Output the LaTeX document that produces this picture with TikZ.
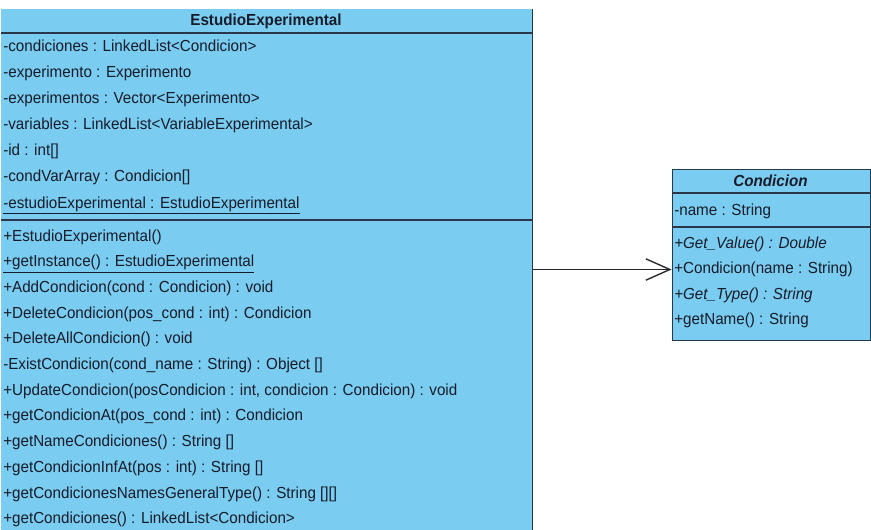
\documentclass[tikz,border=0pt]{standalone}
\usepackage{fontspec}
\setmainfont[FakeStretch=0.95]{Liberation Sans}
\usetikzlibrary{arrows.meta}
\definecolor{classfill}{RGB}{122,204,240}
\definecolor{classline}{RGB}{40,56,74}
\definecolor{classtext}{RGB}{22,28,42}

\begin{document}
\begin{tikzpicture}[x=0.75pt,y=-0.75pt,
  member/.style={anchor=west, inner sep=0pt, text height=1.5ex, text depth=0.35ex,
    font=\fontsize{12}{14}\selectfont, text=classtext},
  classname/.style={member, anchor=center, font=\fontsize{12}{14}\selectfont\bfseries},
  classbox/.style={fill=classfill, inner sep=0pt, anchor=north west},
  rule/.style={draw=classline, line width=1.1pt},
  assoc/.style={draw=black!85, line width=1pt,
    -{Straight Barb[length=18pt,width=16pt,line width=1pt]}}]
\useasboundingbox (0,0) rectangle (871,530);

% class EstudioExperimental (runs past the lower edge)
\node[classbox, minimum width=398.25pt, minimum height=390.75pt] (ee) at (1,9) {};
\draw[rule] (ee.north east) -- (ee.south east);
\draw[rule] (1,33) -- (532,33);
\draw[rule] (1,220) -- (532,220);
\node[classname] (eet) at (266,21) {EstudioExperimental};

\node[member] (ea1) at (3,47)  {-condiciones : LinkedList<Condicion>};
\node[member] (ea2) at (3,73)  {-experimento : Experimento};
\node[member] (ea3) at (3,99)  {-experimentos : Vector<Experimento>};
\node[member] (ea4) at (3,125) {-variables : LinkedList<VariableExperimental>};
\node[member] (ea5) at (3,151) {-id : int[]};
\node[member] (ea6) at (3,177) {-condVarArray : Condicion[]};
\node[member] (ea7) at (3,204) {\underline{-estudioExperimental : EstudioExperimental}};

\node[member] (em1)  at (3,237)   {+EstudioExperimental()};
\node[member] (em2)  at (3,262.7) {\underline{+getInstance() : EstudioExperimental}};
\node[member] (em3)  at (3,288.4) {+AddCondicion(cond : Condicion) : void};
\node[member] (em4)  at (3,314.1) {+DeleteCondicion(pos\_cond : int) : Condicion};
\node[member] (em5)  at (3,339.8) {+DeleteAllCondicion() : void};
\node[member] (em6)  at (3,365.5) {-ExistCondicion(cond\_name : String) : Object []};
\node[member] (em7)  at (3,391.2) {+UpdateCondicion(posCondicion : int, condicion : Condicion) : void};
\node[member] (em8)  at (3,416.9) {+getCondicionAt(pos\_cond : int) : Condicion};
\node[member] (em9)  at (3,442.6) {+getNameCondiciones() : String []};
\node[member] (em10) at (3,468.3) {+getCondicionInfAt(pos : int) : String []};
\node[member] (em11) at (3,494)   {+getCondicionesNamesGeneralType() : String [][]};
\node[member] (em12) at (3,519.7) {+getCondiciones() : LinkedList<Condicion>};

% class Condicion
\node[classbox, draw=classline, line width=1.1pt,
      minimum width=148.5pt, minimum height=128.25pt] (cd) at (671.5,169) {};
\draw[rule] (671.5,193) -- (869.5,193);
\draw[rule] (671.5,227) -- (869.5,227);
\node[classname, font=\fontsize{12}{14}\selectfont\bfseries\itshape] (cdt) at (770.5,182) {Condicion};
\node[member] (ca1) at (674,211) {-name : String};
\node[member] (cm1) at (674,244) {\itshape +Get\_Value() : Double};
\node[member] (cm2) at (674,269.5) {+Condicion(name : String)};
\node[member] (cm3) at (674,295) {\itshape +Get\_Type() : String};
\node[member] (cm4) at (674,320.5) {+getName() : String};

% association
\draw[assoc] (ee.east |- cm2.west) -- (cd.west |- cm2.west);
\end{tikzpicture}
\end{document}
